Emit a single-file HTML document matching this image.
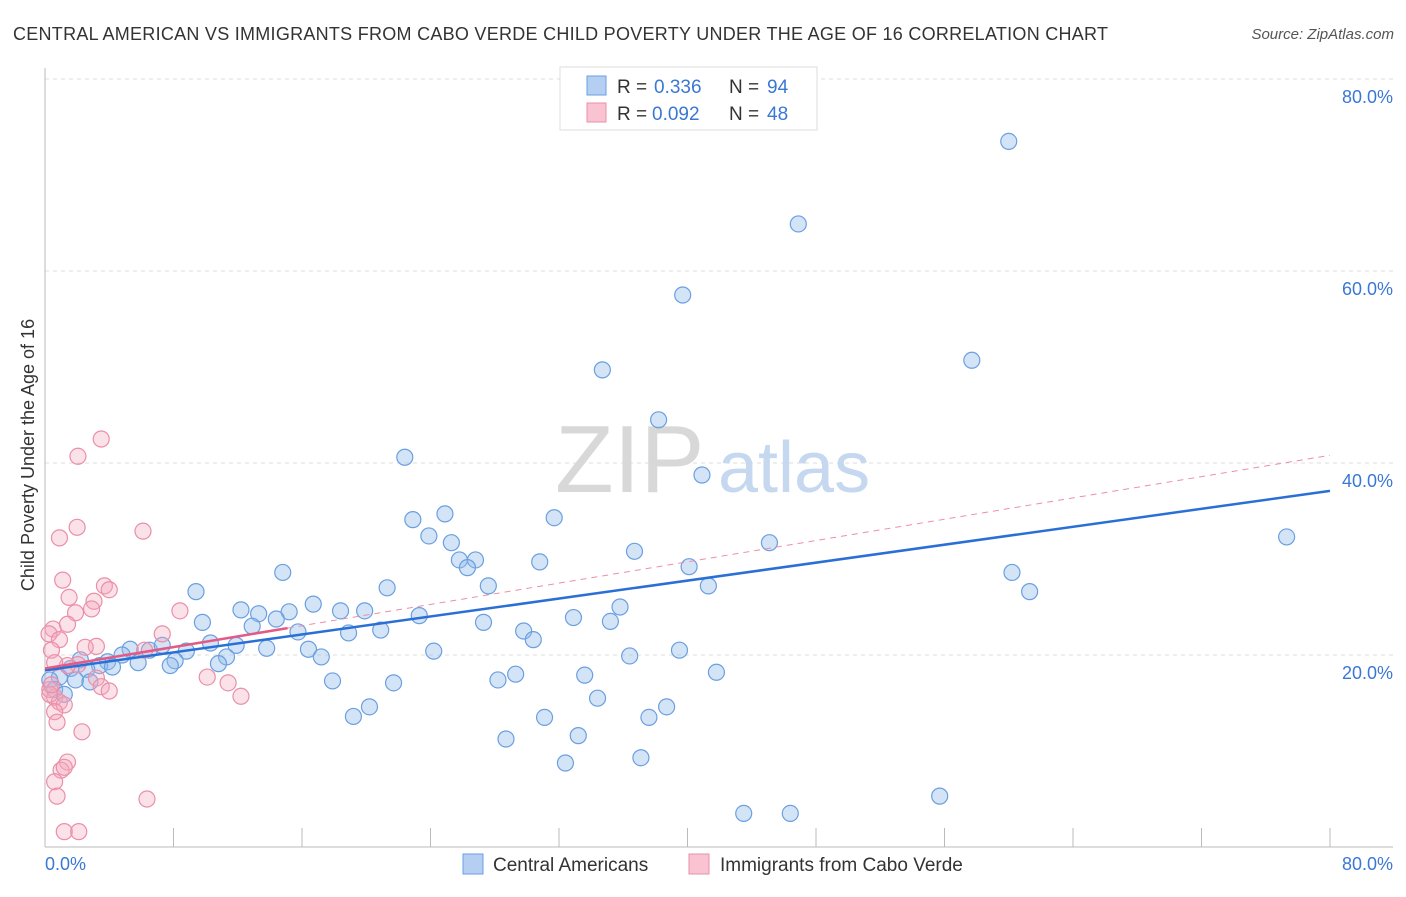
<!DOCTYPE html>
<html><head><meta charset="utf-8"><style>
body{margin:0;background:#fff;font-family:"Liberation Sans",sans-serif}
svg text{font-family:"Liberation Sans",sans-serif}
</style></head><body>
<svg width="1406" height="892" xmlns="http://www.w3.org/2000/svg">
<text x="13" y="40" font-size="18" fill="#333" textLength="1095">CENTRAL AMERICAN VS IMMIGRANTS FROM CABO VERDE CHILD POVERTY UNDER THE AGE OF 16 CORRELATION CHART</text>
<text x="1394" y="39" font-size="15" fill="#555" font-style="italic" text-anchor="end">Source: ZipAtlas.com</text>
<g id="grid"></g>
<text x="555" y="492" font-size="96" fill="#d8d8d8" font-family="Liberation Serif">ZIP</text>
<text x="718" y="492" font-size="72" fill="#c5d8ef">atlas</text>
<g id="pts"></g>
<g id="lines"></g>
<text transform="translate(34,455) rotate(-90)" font-size="18" fill="#333" text-anchor="middle">Child Poverty Under the Age of 16</text>
<text x="45" y="870" font-size="18" fill="#3a78d4">0.0%</text>
<text x="1393" y="870" font-size="18" fill="#3a78d4" text-anchor="end">80.0%</text>
<g>
<rect x="560" y="67" width="257" height="63" fill="#fff" stroke="#ddd"/>
<rect x="587" y="76" width="19" height="19" fill="#b5cff2" stroke="#6a9fe0"/>
<rect x="587" y="103" width="19" height="19" fill="#f9c3d2" stroke="#eb8fa8"/>
<text x="617" y="93" font-size="19" fill="#333">R =</text>
<text x="654" y="93" font-size="19" fill="#3a78d4">0.336</text>
<text x="729" y="93" font-size="19" fill="#333">N =</text>
<text x="767" y="93" font-size="19" fill="#3a78d4">94</text>
<text x="617" y="120" font-size="19" fill="#333">R =</text>
<text x="652" y="120" font-size="19" fill="#3a78d4">0.092</text>
<text x="729" y="120" font-size="19" fill="#333">N =</text>
<text x="767" y="120" font-size="19" fill="#3a78d4">48</text>
</g>
<g>
<rect x="463" y="854" width="20" height="20" fill="#b5cff2" stroke="#6a9fe0"/>
<text x="493" y="871" font-size="19" fill="#333">Central Americans</text>
<rect x="689" y="854" width="20" height="20" fill="#f9c3d2" stroke="#eb8fa8"/>
<text x="720" y="871" font-size="19" fill="#333">Immigrants from Cabo Verde</text>
</g>
</svg>
<script>
const yTicks=[20,40,60,80];
const xTicks=[0,8,16,24,32,40,48,56,64,72,80];
const blueX=[60.0,46.9,39.7,34.7,57.7,38.2,40.9,22.4,22.9,24.9,31.7,23.9,25.3,25.8,26.8,26.3,30.8,36.7,45.1,40.1,77.3,60.2,61.3,27.6,21.3,41.3,14.8,9.4,12.2,13.3,15.2,16.7,18.4,19.9,23.3,32.9,35.8,35.2,27.3,9.8,12.9,14.4,15.75,18.9,20.9,29.8,30.4,10.3,11.9,13.8,16.4,17.2,24.2,36.4,39.5,6.5,5.3,7.3,8.8,4.8,8.1,3.9,3.4,4.2,5.8,7.8,11.3,10.8,2.2,1.6,2.6,0.9,1.9,2.8,0.3,0.6,1.2,17.9,21.7,28.2,29.3,33.6,41.8,34.4,19.2,20.2,31.1,37.6,38.7,28.7,33.2,32.4,37.1,55.7,43.5,46.4];
const blueY=[73.5,64.9,57.5,49.7,50.7,44.5,38.75,40.6,34.1,34.7,34.3,32.4,31.7,29.9,29.9,29.1,29.7,30.8,31.7,29.2,32.3,28.6,26.6,27.2,27.0,27.2,28.6,26.6,24.7,24.3,24.5,25.3,24.6,24.6,24.1,23.9,25.0,23.5,23.4,23.4,23.0,23.75,22.4,22.3,22.6,22.5,21.6,21.25,21.0,20.7,20.6,19.8,20.4,19.9,20.5,20.5,20.6,21.0,20.4,20.0,19.4,19.3,18.9,18.75,19.2,18.9,19.8,19.1,19.5,18.6,18.5,17.7,17.4,17.2,17.4,16.4,15.9,17.3,17.1,17.4,18.0,17.9,18.2,15.5,13.6,14.6,13.5,13.5,14.6,11.25,11.6,8.75,9.3,5.3,3.5,3.5];
const pinkX=[3.5,2.05,2.0,0.9,6.1,1.1,3.7,4.0,1.5,3.05,2.9,1.9,8.4,0.5,1.4,0.25,0.9,3.2,7.3,0.4,2.5,6.2,2.05,1.4,3.2,0.6,10.1,11.4,12.2,3.5,4.0,0.3,0.6,0.9,1.2,0.6,0.75,2.3,1.4,1.0,1.2,0.6,0.75,6.35,1.2,2.1,0.3,0.4];
const pinkY=[42.5,40.7,33.3,32.2,32.9,27.8,27.2,26.8,26.0,25.6,24.8,24.4,24.6,22.7,23.2,22.2,21.6,20.9,22.2,20.5,20.8,20.5,19.0,18.9,17.6,19.2,17.7,17.1,15.7,16.7,16.25,16.4,15.6,15.1,14.8,14.1,13.0,12.0,8.85,8.0,8.3,6.8,5.3,5.0,1.6,1.6,15.9,16.9];
const blueTrend=[[0,18.4],[80,37.1]];
const pinkTrend=[[0,18.6],[15.1,22.8],[80,40.8]];
const NS='http://www.w3.org/2000/svg';
const sx=v=>45+v*(1285/80), sy=v=>847-v*9.6;
function mk(t,a,p){const e=document.createElementNS(NS,t);for(const k in a)e.setAttribute(k,a[k]);p.appendChild(e);return e;}
const g=document.getElementById('grid');
yTicks.forEach(t=>{const l=mk('line',{x1:45,x2:1393,y1:sy(t),y2:sy(t),stroke:'#ddd','stroke-dasharray':'4,4'},g);


const tx=mk('text',{x:1393,y:sy(t)+24,'font-size':18,fill:'#3a78d4','text-anchor':'end'},g);tx.textContent=t.toFixed(1)+'%';

});
mk('line',{x1:45,x2:45,y1:68,y2:847,stroke:'#bbb'},g);
mk('line',{x1:45,x2:1393,y1:847,y2:847,stroke:'#bbb'},g);
xTicks.forEach(t=>{const l=mk('line',{x1:sx(t),x2:sx(t),y1:828,y2:847,stroke:'#bbb'},g);

});
const p=document.getElementById('pts');
blueX.forEach((x,i)=>{const c=mk('circle',{cx:sx(x),cy:sy(blueY[i]),r:8,fill:'rgba(147,187,235,0.4)',stroke:'#6a9fe0','stroke-width':1.2},p);

});
pinkX.forEach((x,i)=>{const c=mk('circle',{cx:sx(x),cy:sy(pinkY[i]),r:8,fill:'rgba(244,170,190,0.35)',stroke:'#eb8fa8','stroke-width':1.2},p);

});
const L=document.getElementById('lines');
let a=mk('line',{x1:sx(pinkTrend[1][0]),y1:sy(pinkTrend[1][1]),x2:sx(pinkTrend[2][0]),y2:sy(pinkTrend[2][1]),stroke:'#eb8fa8','stroke-width':1,'stroke-dasharray':'6,5'},L);


a=mk('line',{x1:sx(blueTrend[0][0]),y1:sy(blueTrend[0][1]),x2:sx(blueTrend[1][0]),y2:sy(blueTrend[1][1]),stroke:'#2a6fd6','stroke-width':2.5},L);


a=mk('line',{x1:sx(pinkTrend[0][0]),y1:sy(pinkTrend[0][1]),x2:sx(pinkTrend[1][0]),y2:sy(pinkTrend[1][1]),stroke:'#e35a85','stroke-width':2.5},L);


</script>
</body></html>
